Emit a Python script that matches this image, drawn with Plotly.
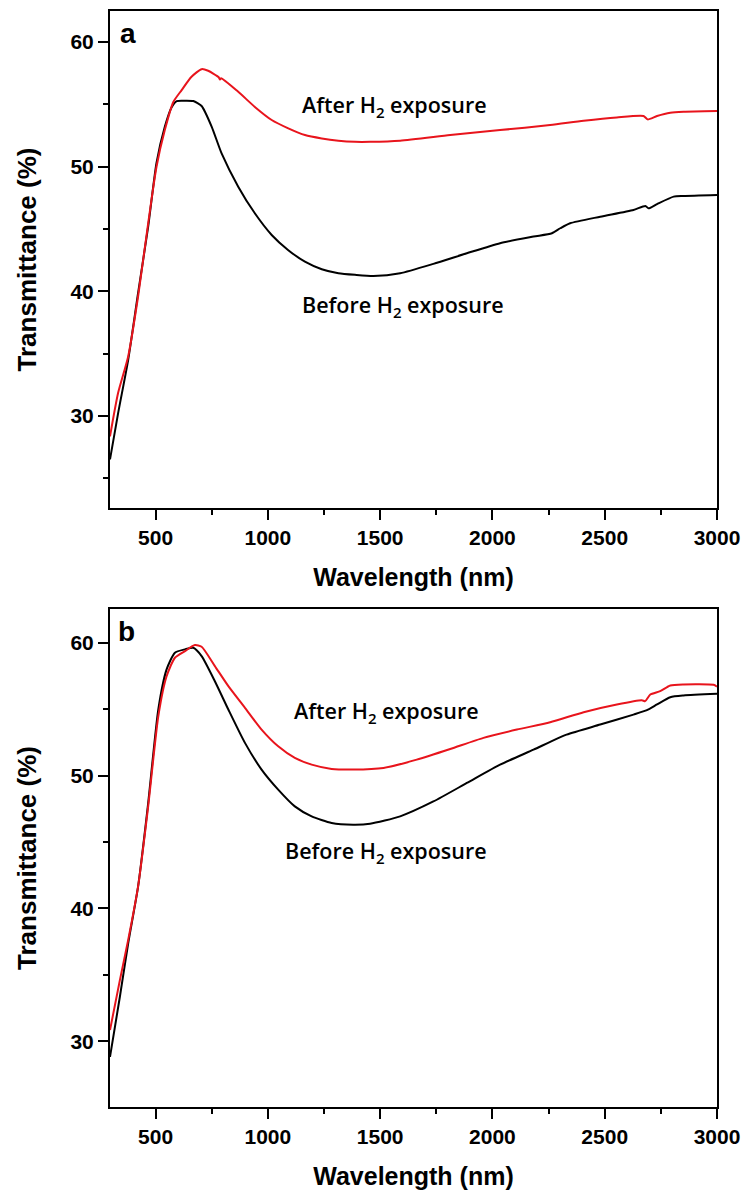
import plotly.graph_objects as go

# Panel (a): transmittance spectra, wavelength in nm, transmittance in %
wl_a_before = [297, 333, 378, 422, 467, 504, 541, 571, 594, 630, 668, 705, 750, 794, 868, 942,
               1017, 1091, 1165, 1240, 1314, 1388, 1470, 1589, 1737, 1886, 2034, 2183, 2265,
               2302, 2346, 2480, 2628, 2681, 2695, 2733, 2807, 2851, 3000]
t_a_before = [26.5, 30.2, 34.5, 39.85, 45.2, 50.3, 53.2, 54.76, 55.27, 55.3, 55.27, 54.87, 53.2,
              51.07, 48.4, 46.26, 44.52, 43.3, 42.38, 41.77, 41.45, 41.32, 41.23, 41.45, 42.2,
              43.05, 43.86, 44.39, 44.66, 45.06, 45.46, 45.99, 46.53, 46.85, 46.66, 47.0, 47.6,
              47.65, 47.73]

wl_a_after = [297, 333, 378, 422, 467, 504, 541, 579, 616, 660, 705, 734, 780, 787, 792, 868, 942,
              1017, 1091, 1165, 1240, 1314, 1388, 1455, 1589, 1812, 2034, 2257, 2406, 2554, 2673,
              2691, 2733, 2792, 2851, 3000]
t_a_after = [28.35, 31.83, 34.77, 39.58, 45.46, 50.0, 52.94, 55.2, 56.15, 57.22, 57.83, 57.7,
             57.2, 57.0, 57.1, 56.01, 54.8, 53.75, 53.08, 52.54, 52.27, 52.09, 52.0, 52.0, 52.09,
             52.54, 52.94, 53.34, 53.69, 53.96, 54.07, 53.8, 54.07, 54.33, 54.41, 54.47]

# Panel (b)
wl_b_before = [297, 341, 378, 422, 467, 512, 549, 586, 631, 668, 705, 764, 824, 898, 972, 1046,
               1120, 1195, 1284, 1380, 1455, 1589, 1737, 1886, 2034, 2183, 2330, 2480, 2628,
               2688, 2733, 2792, 2851, 3000]
t_b_before = [28.82, 33.35, 37.37, 41.64, 47.93, 54.97, 57.99, 59.25, 59.5, 59.62, 58.99, 57.1,
              54.97, 52.46, 50.45, 48.94, 47.68, 46.93, 46.43, 46.3, 46.37, 46.93, 48.05, 49.44,
              50.82, 51.95, 53.08, 53.84, 54.59, 54.92, 55.35, 55.9, 56.03, 56.15]

wl_b_after = [297, 341, 378, 422, 467, 512, 549, 586, 631, 675, 705, 764, 824, 898, 972, 1046,
              1120, 1195, 1284, 1380, 1515, 1663, 1812, 1960, 2109, 2257, 2406, 2554, 2665,
              2680, 2703, 2747, 2792, 2851, 2985, 3000]
t_b_after = [30.84, 34.6, 37.63, 41.64, 47.68, 54.46, 57.48, 58.87, 59.37, 59.82, 59.7, 58.24,
             56.73, 55.1, 53.46, 52.2, 51.33, 50.82, 50.5, 50.45, 50.57, 51.2, 52.0, 52.84,
             53.46, 54.01, 54.77, 55.35, 55.67, 55.6, 56.1, 56.35, 56.78, 56.86, 56.83, 56.7]

x_ticks = [500, 1000, 1500, 2000, 2500, 3000]
x_minor = [750, 1250, 1750, 2250, 2750]
y_ticks = [30, 40, 50, 60]
y_minor = [25, 35, 45, 55]

BLACK = "#000000"
RED = "#e8141c"
AXIS_FONT = "Arial, Liberation Sans, sans-serif"
NOTE_FONT = "Segoe UI, Open Sans, sans-serif"


def spectrum(x, y, color, xa, ya):
    return go.Scatter(x=x, y=y, mode="lines", xaxis=xa, yaxis=ya, showlegend=False,
                      line=dict(color=color, width=2, shape="spline", smoothing=0.6))


fig = go.Figure()
fig.add_trace(spectrum(wl_a_before, t_a_before, BLACK, "x", "y"))
fig.add_trace(spectrum(wl_a_after, t_a_after, RED, "x", "y"))
fig.add_trace(spectrum(wl_b_before, t_b_before, BLACK, "x2", "y2"))
fig.add_trace(spectrum(wl_b_after, t_b_after, RED, "x2", "y2"))

common_x = dict(range=[297, 3000], tickvals=x_ticks, ticks="outside", ticklen=10, tickwidth=1.5,
                tickcolor=BLACK, showline=True, linecolor=BLACK, linewidth=2, mirror=True,
                showgrid=False, zeroline=False, automargin=False,
                minor=dict(tickvals=x_minor, ticks="outside", ticklen=5,
                           tickwidth=1.5, tickcolor=BLACK, showgrid=False),
                tickfont=dict(family=AXIS_FONT, size=21, color=BLACK, weight="bold"),
                title=dict(text="<b>Wavelength (nm)</b>", standoff=20,
                           font=dict(family=AXIS_FONT, size=25, color=BLACK)))
common_y = dict(tickvals=y_ticks, ticks="outside", ticklen=10, tickwidth=1.5, tickcolor=BLACK,
                showline=True, linecolor=BLACK, linewidth=2, mirror=True, showgrid=False,
                zeroline=False, automargin=False,
                minor=dict(tickvals=y_minor, ticks="outside", ticklen=5, tickwidth=1.5,
                           tickcolor=BLACK, showgrid=False),
                tickfont=dict(family=AXIS_FONT, size=21, color=BLACK, weight="bold"),
                title=dict(text="<b>Transmittance (%)</b>", standoff=26,
                           font=dict(family=AXIS_FONT, size=26, color=BLACK)))

fig.update_layout(
    width=745, height=1194,
    margin=dict(l=110, r=28, t=11, b=87),
    plot_bgcolor="white", paper_bgcolor="white",
    xaxis=dict(common_x, domain=[0, 1], anchor="y"),
    yaxis=dict(common_y, domain=[0.5465, 1], range=[22.6, 62.5], anchor="x"),
    xaxis2=dict(common_x, domain=[0, 1], anchor="y2"),
    yaxis2=dict(common_y, domain=[0, 0.4544], range=[25.05, 62.54], anchor="x2"),
)

# curve labels: (x-axis, y-axis, wavelength, transmittance, text)
notes = [
    ("x", "y", 1565, 54.87, "After H<sub>2</sub> exposure"),
    ("x", "y", 1600, 38.83, "Before H<sub>2</sub> exposure"),
    ("x2", "y2", 1530, 54.82, "After H<sub>2</sub> exposure"),
    ("x2", "y2", 1525, 44.25, "Before H<sub>2</sub> exposure"),
]
for xr, yr, xv, yv, txt in notes:
    fig.add_annotation(x=xv, y=yv, xref=xr, yref=yr, text=txt, showarrow=False,
                       font=dict(family=NOTE_FONT, size=21.5, color=BLACK, weight=600))

# panel letters
for xr, yr, lbl, xpos in [("x domain", "y domain", "a", 0.014), ("x2 domain", "y2 domain", "b", 0.01)]:
    fig.add_annotation(x=xpos, y=0.99, xref=xr, yref=yr,
                       text=f"<b>{lbl}</b>", showarrow=False, xanchor="left", yanchor="top",
                       font=dict(family=AXIS_FONT, size=28, color=BLACK))

fig.write_html("out.html")
